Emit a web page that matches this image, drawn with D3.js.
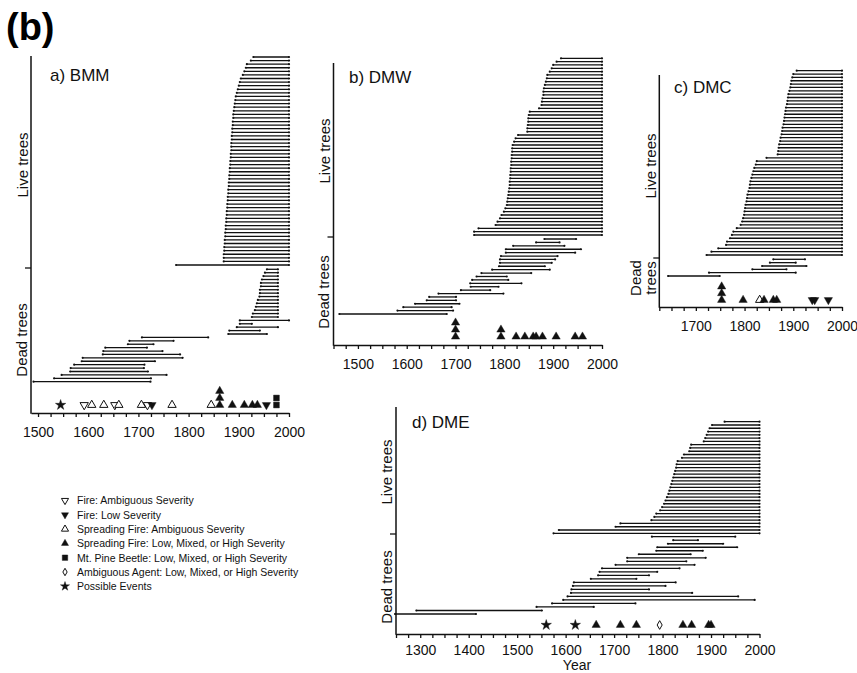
<!DOCTYPE html>
<html>
<head>
<script src="https://d3js.org/d3.v7.min.js"></script>
<style>
body { margin: 0; background: #fff; }
svg { font-family: 'Liberation Sans', Arial, sans-serif; }
</style>
</head>
<body>
<svg id="svg" width="857" height="673"></svg>
<script>
// start year of each live tree (all run to 2000), top to bottom
const bmmLive = [1929,1924,1916,1914,1911,1908,1904,1902,1900,1898,
  1896,1894,1893,1892,1891,1890,1889,1889,1888,1888,
  1887,1887,1886,1886,1885,1885,1885,1884,1884,1883,
  1883,1882,1882,1881,1881,1880,1880,1879,1879,1878,
  1878,1877,1877,1876,1876,1875,1875,1874,1874,1873,
  1873,1872,1872,1871,1871,1870,1870,1870,1775];
const dmwLive = [1916,1907,1900,1897,1893,1888,1887,1885,1883,1881,
  1880,1880,1878,1877,1876,1871,1852,1850,1849,1849,
  1848,1847,1847,1828,1823,1820,1817,1816,1816,1815,
  1815,1814,1814,1813,1813,1812,1812,1811,1811,1810,
  1809,1808,1807,1806,1805,1802,1799,1794,1791,1786,
  1782,1747,1738,1738];
const dmcLive = [1907,1900,1898,1896,1895,1894,1892,1890,1889,1888,
  1887,1885,1884,1883,1882,1881,1880,1878,1877,1876,
  1874,1873,1871,1870,1869,1868,1845,1825,1823,1820,
  1818,1816,1814,1812,1811,1810,1808,1806,1805,1804,
  1802,1801,1800,1799,1797,1795,1792,1784,1777,1774,
  1770,1764,1762,1746,1732,1722];
const dmeLive = [1928,1902,1897,1894,1891,1888,1885,1859,1857,1855,
  1844,1840,1831,1829,1828,1826,1824,1822,1820,1818,
  1816,1814,1812,1809,1806,1803,1799,1795,1787,1783,
  1777,1713,1703,1586,1575];

// dead trees: [inner year, outer year]
const bmmDead = [[1956,1978],[1952,1978],[1949,1978],[1946,1978],[1944,1978],[1944,1978],
  [1942,1978],[1942,1978],[1941,1978],[1938,1978],[1936,1978],[1934,1978],[1932,1978],
  [1928,1978],[1926,1978],[1902,2000],[1902,1926],[1896,1978],[1881,1942],[1879,1956],
  [1707,1839],[1682,1770],[1679,1730],[1634,1717],[1630,1748],[1629,1783],[1589,1788],
  [1587,1733],[1572,1712],[1565,1711],[1564,1719],[1547,1756],[1532,1725],[1491,1724]];
const dmwDead = [[1882,1947],[1865,1913],[1818,1923],[1803,1957],[1803,1945],[1793,1909],
  [1791,1904],[1791,1897],[1789,1883],[1775,1893],[1753,1855],[1743,1805],[1734,1808],
  [1730,1835],[1731,1788],[1711,1771],[1665,1798],[1646,1701],[1641,1701],[1617,1708],
  [1593,1692],[1581,1695],[1462,1682]];
const dmcDead = [[1859,1924],[1852,1905],[1836,1927],[1816,1886],[1727,1905],[1643,1749]];
const dmeDead = [[1778,1950],[1822,1873],[1811,1925],[1789,1954],[1787,1883],[1751,1858],
  [1727,1889],[1727,1849],[1703,1866],[1675,1835],[1670,1789],[1667,1772],[1652,1746],
  [1617,1827],[1615,1806],[1612,1772],[1611,1861],[1604,1956],[1595,1990],[1572,1744],
  [1540,1658],[1292,1551],[1248,1415]];

// disturbance events: [year, type, stack level]
const bmmEvents = [[1545,"possible",0],[1592,"fireAmb",0],[1607,"spreadAmb",0],[1631,"spreadAmb",0],
  [1653,"fireAmb",0],[1661,"spreadAmb",0],[1706,"spreadAmb",0],[1718,"fireAmb",0],[1727,"fireLow",0],
  [1767,"spreadAmb",0],[1845,"spreadAmb",0],[1862,"spread",0],[1862,"spread",1],[1862,"spread",2],
  [1887,"spread",0],[1911,"spread",0],[1927,"spread",0],[1937,"spread",0],[1955,"fireLow",0],
  [1975,"beetle",0],[1975,"beetle",1]];
const dmwEvents = [[1700,"spread",0],[1700,"spread",1],[1700,"spread",2],[1793,"spread",0],
  [1793,"spread",1],[1824,"spread",0],[1842,"spread",0],[1859,"spread",0],[1865,"spread",0],
  [1878,"spread",0],[1906,"spread",0],[1945,"spread",0],[1960,"spread",0]];
const dmcEvents = [[1753,"spread",0],[1753,"spread",1],[1753,"spread",2],[1797,"spread",0],
  [1831,"spreadAmb",0],[1840,"spread",0],[1859,"spread",0],[1866,"spread",0],
  [1939,"fireLow",0],[1944,"fireLow",0],[1972,"fireLow",0]];
const dmeEvents = [[1560,"possible",0],[1620,"possible",0],[1663,"spread",0],[1713,"spread",0],
  [1746,"spread",0],[1794,"agentAmb",0],[1842,"spread",0],[1860,"spread",0],
  [1895,"spread",0],[1900,"spread",0]];

const legendTypes = ["fireAmb","fireLow","spreadAmb","spread","beetle","agentAmb","possible"];
const legendLabels = ["Fire: Ambiguous Severity","Fire: Low Severity","Spreading Fire: Ambiguous Severity",
  "Spreading Fire: Low, Mixed, or High Severity","Mt. Pine Beetle: Low, Mixed, or High Severity",
  "Ambiguous Agent: Low, Mixed, or High Severity","Possible Events"];

const symbolSpec = {
  fireAmb:   {shape: d3.symbolTriangle, fill: false, rot: 180},
  fireLow:   {shape: d3.symbolTriangle, fill: true,  rot: 180},
  spreadAmb: {shape: d3.symbolTriangle, fill: false, rot: 0},
  spread:    {shape: d3.symbolTriangle, fill: true,  rot: 0},
  beetle:    {shape: d3.symbolSquare,   fill: true,  rot: 0},
  agentAmb:  {shape: d3.symbolDiamond,  fill: false, rot: 0},
  possible:  {shape: d3.symbolStar,     fill: true,  rot: 0}
};

// panel layout in pixels
const panels = [
  {title: "a) BMM", live: bmmLive, dead: bmmDead, events: bmmEvents,
   domain: [1486, 2000], range: [31, 289], ticks: d3.range(1500, 2001, 25), pad: 10.5,
   top: 56, base: 413, liveY: [57, 265], deadY: [269.3, 381.7], evY: 405, evStep: 7, divider: 268,
   titlePos: [50, 81], liveLbl: [[28, 165, "Live trees"]], deadLbl: [[27, 340, "Dead trees"]]},
  {title: "b) DMW", live: dmwLive, dead: dmwDead, events: dmwEvents,
   domain: [1450, 2000], range: [333.5, 602], ticks: d3.range(1450, 2001, 25), pad: 10.5,
   top: 63, base: 345, liveY: [58.3, 235], deadY: [239, 314], evY: 336.7, evStep: 7, divider: 237,
   titlePos: [349, 83], liveLbl: [[330, 151, "Live trees"]], deadLbl: [[329, 292, "Dead trees"]]},
  {title: "c) DMC", live: dmcLive, dead: dmcDead, events: dmcEvents,
   domain: [1625, 2000], range: [659.3, 842], ticks: d3.range(1625, 2001, 25), pad: 10,
   top: 75, base: 307, liveY: [70.7, 255], deadY: [259.3, 276], evY: 300, evStep: 6.7, divider: 258,
   titlePos: [674, 93], liveLbl: [[656, 166, "Live trees"]], deadLbl: [[641, 278, "Dead"], [656, 278, "trees"]]},
  {title: "d) DME", live: dmeLive, dead: dmeDead, events: dmeEvents,
   domain: [1250, 2000], range: [396, 759.5], ticks: d3.range(1250, 2001, 25), pad: 7,
   top: 407, base: 634, liveY: [421.7, 533.3], deadY: [536.7, 614], evY: 625, evStep: 7, divider: 534,
   titlePos: [412, 428], liveLbl: [[391.5, 472, "Live trees"]], deadLbl: [[392, 587, "Dead trees"]]}
];

const svg = d3.select("#svg");
const ink = "#111";

function symbolPath(type, size) {
  return d3.symbol().type(symbolSpec[type].shape).size(size)();
}

function drawSymbol(g, type, x, y, size) {
  const s = symbolSpec[type];
  g.append("path")
    .attr("d", symbolPath(type, size))
    .attr("transform", `translate(${x},${y}) rotate(${s.rot})`)
    .attr("fill", s.fill ? ink : "#fff")
    .attr("stroke", ink)
    .attr("stroke-width", s.fill ? 0.4 : 1);
}

function drawBars(g, x, rows, yr) {
  const y = d3.scalePoint().domain(d3.range(rows.length)).range(yr);
  const bars = g.append("g");
  rows.forEach((r, i) => {
    bars.append("line")
      .attr("x1", x(r[0])).attr("x2", x(r[1]))
      .attr("y1", y(i)).attr("y2", y(i))
      .attr("stroke", ink).attr("stroke-width", 1.3);
    bars.append("circle").attr("cx", x(r[0])).attr("cy", y(i)).attr("r", 1.1).attr("fill", ink);
    bars.append("circle").attr("cx", x(r[1])).attr("cy", y(i)).attr("r", 1.1).attr("fill", ink);
  });
}

panels.forEach(p => {
  const g = svg.append("g");
  const x = d3.scaleLinear().domain(p.domain).range(p.range);

  // x axis
  const ax = g.append("g")
    .attr("transform", `translate(0,${p.base})`)
    .call(d3.axisBottom(x).tickValues(p.ticks).tickSize(4).tickSizeOuter(0)
      .tickPadding(p.pad).tickFormat(d => d % 100 === 0 ? d : ""));
  ax.select(".domain").attr("stroke", ink).attr("stroke-width", 1.5);
  ax.selectAll(".tick line").attr("stroke", ink).attr("stroke-width", 1.3);
  ax.selectAll(".tick text").attr("fill", ink).style("font-size", "14px")
    .style("font-family", "'Liberation Sans', Arial, sans-serif");

  // y axis line and live/dead divider
  const y0 = p.range[0];
  g.append("line").attr("x1", y0).attr("x2", y0).attr("y1", p.top).attr("y2", p.base + 0.75)
    .attr("stroke", ink).attr("stroke-width", 1.5);
  g.append("line").attr("x1", y0 - 6).attr("x2", y0).attr("y1", p.divider).attr("y2", p.divider)
    .attr("stroke", ink).attr("stroke-width", 1.3);

  // bars
  drawBars(g, x, p.live.map(s => [s, 2000]), p.liveY);
  drawBars(g, x, p.dead, p.deadY);

  // events
  p.events.forEach(e => {
    const size = e[1] === "beetle" ? 34 : e[1] === "possible" ? 34 : e[1] === "agentAmb" ? 22 : 30;
    drawSymbol(g, e[1], x(e[0]), p.evY - e[2] * p.evStep, size);
  });

  // labels
  g.append("text").attr("x", p.titlePos[0]).attr("y", p.titlePos[1])
    .style("font-size", "17px").attr("fill", ink).text(p.title);
  p.liveLbl.concat(p.deadLbl).forEach(l => {
    g.append("text")
      .attr("transform", `translate(${l[0]},${l[1]}) rotate(-90)`)
      .attr("text-anchor", "middle")
      .style("font-size", "15px").attr("fill", ink).text(l[2]);
  });
});

svg.append("text").attr("x", 577).attr("y", 670).attr("text-anchor", "middle")
  .style("font-size", "14px").attr("fill", ink).text("Year");

svg.append("text").attr("x", 6).attr("y", 40)
  .style("font-size", "38px").style("font-weight", "bold").attr("fill", "#000").text("(b)");

// legend
const legY = d3.scalePoint().domain(legendTypes).range([500.5, 586.3]);
const leg = svg.append("g");
legendTypes.forEach((t, i) => {
  const size = t === "beetle" ? 30 : t === "possible" ? 26 : t === "agentAmb" ? 16 : 22;
  drawSymbol(leg, t, 65, legY(t), size);
  leg.append("text").attr("x", 77).attr("y", legY(t) + 3.8)
    .style("font-size", "10.5px").attr("fill", ink).text(legendLabels[i]);
});
</script>
</body>
</html>
